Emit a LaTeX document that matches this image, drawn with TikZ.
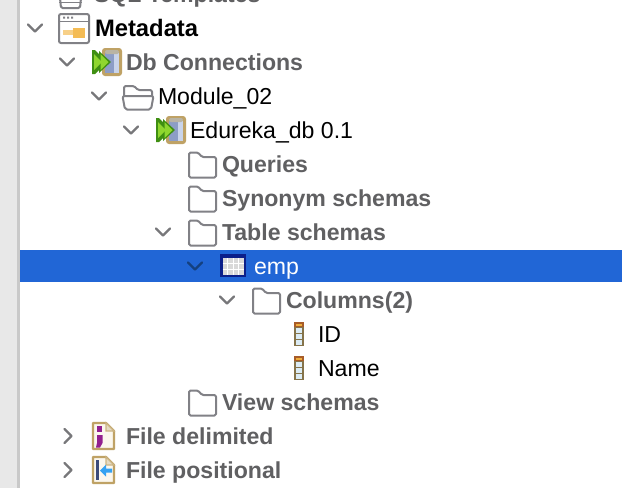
\documentclass[tikz,border=0pt]{standalone}
\usepackage{fontspec}
\setmainfont{Liberation Sans}
\definecolor{selblue}{HTML}{2166D6}
\definecolor{seldark}{HTML}{14407F}
\definecolor{navy}{HTML}{0B1F8A}
\definecolor{chev}{HTML}{77777A}
\definecolor{graytxt}{HTML}{606062}
\definecolor{foldline}{HTML}{818186}
\definecolor{tan}{HTML}{BFA265}
\definecolor{cylblue}{HTML}{8C9DC6}
\definecolor{cyllight}{HTML}{C9D4EA}
\definecolor{cylgray}{HTML}{B9B4A4}
\definecolor{limeg}{HTML}{8FD62E}
\definecolor{darkg}{HTML}{3F8F12}
\definecolor{keyor}{HTML}{F4BC55}
\definecolor{colbrown}{HTML}{85734A}
\definecolor{coltop}{HTML}{A85C28}
\definecolor{color2}{HTML}{EFAE3C}
\definecolor{colcell}{HTML}{DCECF5}
\definecolor{panel}{HTML}{E8E8E8}
\definecolor{panelline}{HTML}{C9C9C9}
\definecolor{purp}{HTML}{92208F}
\definecolor{arrowblue}{HTML}{36A2F2}
\definecolor{barblue}{HTML}{3B4A78}
\definecolor{cream}{HTML}{FBF7EE}
\tikzset{
  x=1pt,y=-1pt,
  lbl/.style={anchor=base west,inner sep=0pt,outer sep=0pt,font=\fontsize{23.1}{25}\selectfont,text=black},
  blbl/.style={lbl,font=\fontsize{23.1}{25}\selectfont\bfseries,text=graytxt},
  chevline/.style={draw=chev,line width=2.2pt,line cap=round,line join=round},
  foldstyle/.style={draw=foldline,line width=2pt,line join=round,fill=white},
  pics/chevdown/.style={code={\draw[chevline,#1] (-7,-3.5) -- (0,3.5) -- (7,-3.5);}},
  pics/chevdown/.default={},
  pics/chevright/.style={code={\draw[chevline] (-3.5,-7) -- (3.5,0) -- (-3.5,7);}},
  pics/folder/.style={code={\draw[foldstyle,rounded corners=1.5pt] (0,0) -- (0,-12.5) -- (9,-12.5) -- (13,-8) -- (27,-8) -- (27,12.5) -- (0,12.5) -- cycle;}},
  pics/dbicon/.style={code={
    \fill[tan,rounded corners=3pt] (10,-14) rectangle (30,14);
    \fill[cyllight] (13,-9) rectangle (27,11);
    \fill[cylblue] (13,-9) rectangle (22,11);
    \fill[cylgray,rounded corners=2pt] (13,-12) rectangle (27,-8);
    \fill[darkg] (0,-12) -- (3,-12) -- (15,0) -- (3,12) -- (0,12) -- cycle;
    \fill[darkg] (7,-11) -- (19,0) -- (7,11) -- cycle;
    \fill[limeg] (2,-8) -- (10,0) -- (2,8) -- cycle;
    \fill[limeg] (8.5,-8) -- (16.5,0) -- (8.5,8) -- cycle;
  }},
  pics/colicon/.style={code={
    \fill[colbrown] (-5,-12) rectangle (5,12);
    \fill[coltop] (-5,-12) rectangle (5,-7);
    \fill[color2] (-3,-10) rectangle (3,-8);
    \fill[colcell] (-3,-6) rectangle (3,-1.5);
    \fill[colcell] (-3,0) rectangle (3,4.5);
    \fill[colcell] (-3,6) rectangle (3,10.5);
  }},
  pics/fileicon/.style={code={
    \draw[tan,line width=2.4pt,fill=cream,line join=round] (0,-13) -- (13,-13) -- (21,-5) -- (21,13) -- (0,13) -- cycle;
    \draw[tan!80,line width=1.2pt,fill=tan!40] (13,-13) -- (13,-5) -- (21,-5) -- cycle;
  }},
}
\begin{document}
\begin{tikzpicture}
\useasboundingbox (0,0) rectangle (622,488);
\clip (0,0) rectangle (622,488);
\fill[white] (0,0) rectangle (622,488);
\fill[panel] (0,0) rectangle (17,488);
\fill[panelline] (17,0) rectangle (20,488);
\fill[selblue] (20,250) rectangle (622,282);

% top clipped row
\pic at (35,-6) {chevdown};
\draw[foldstyle,rounded corners=1.5pt] (59,-12) -- (82,-12) -- (80,8) -- (61,8) -- cycle;
\draw[foldline,line width=1.8pt] (59,2.5) -- (82,2.5);
\node[blbl] (sql) at (94,2) {SQL Templates};

% chevrons
\pic at (35,28) {chevdown};
\pic at (67,62) {chevdown};
\pic at (99,96) {chevdown};
\pic at (131,130) {chevdown};
\pic at (163,232) {chevdown};
\pic at (195,266) {chevdown={draw=seldark}};
\pic at (227,300) {chevdown};
\pic at (68,436) {chevright};
\pic at (68,470) {chevright};

% metadata icon
\draw[foldline,line width=2pt,rounded corners=2pt,fill=white] (59,14) rectangle (89,43);
\draw[foldline,line width=1.8pt] (59,21.5) -- (89,21.5);
\fill[foldline] (63,16.5) rectangle (65,18.5) (67,16.5) rectangle (69,18.5) (71,16.5) rectangle (73,18.5);
\fill[keyor!70!white] (63,29.5) rectangle (74,35);
\fill[keyor] (73,28) rectangle (85,37.5);

% db icons
\pic at (92,62) {dbicon};
\pic at (156,130) {dbicon};

% open folder
\draw[foldstyle,rounded corners=1.5pt] (124,96) -- (124,86) -- (134,86) -- (138,90) -- (152,90) -- (152,96);
\draw[foldstyle,rounded corners=2pt] (122.5,96) -- (153.5,96) -- (151,109.5) -- (125,109.5) -- cycle;

% folders
\pic at (189,165) {folder};
\pic at (189,199) {folder};
\pic at (189,233) {folder};
\pic at (253,301) {folder};
\pic at (189,403) {folder};

% table icon
\fill[navy] (220,254) rectangle (246,277);
\fill[gray!30] (222.5,258) rectangle (243.5,274.5);
\draw[white,line width=1pt] (227.75,258) -- (227.75,274.5) (233,258) -- (233,274.5) (238.25,258) -- (238.25,274.5) (222.5,263.5) -- (243.5,263.5) (222.5,269) -- (243.5,269);

% column icons
\pic at (299,334) {colicon};
\pic at (299,368) {colicon};

% file delimited
\pic at (93,436) {fileicon};
\fill[purp] (96.5,426) rectangle (102,431.5);
\fill[purp] (97,435) rectangle (102.5,443) -- (102.5,443) -- (100,447.5) -- (96,447.5) -- (97,443) -- cycle;
% file positional
\pic at (93,470) {fileicon};
\fill[barblue] (96,460) rectangle (98.5,480);
\fill[arrowblue] (100,470.5) -- (106,464.5) -- (106,468.5) -- (112,468.5) -- (112,472.5) -- (106,472.5) -- (106,476.5) -- cycle;

% labels
\node[lbl,font=\fontsize{23.8}{25}\selectfont\bfseries] (metadata) at (95,36) {Metadata};
\node[blbl] (dbconn) at (126,70) {Db Connections};
\node[lbl] (module) at (158,104) {Module\_02};
\node[lbl] (edureka) at (190,138) {Edureka\_db 0.1};
\node[blbl] (queries) at (222,172) {Queries};
\node[blbl] (synonym) at (222,206) {Synonym schemas};
\node[blbl] (table) at (222,240) {Table schemas};
\node[lbl,text=white] (emp) at (254,274) {emp};
\node[blbl] (columns) at (286,308) {Columns(2)};
\node[lbl] (id) at (318,342) {ID};
\node[lbl] (name) at (318,376) {Name};
\node[blbl] (view) at (222,410) {View schemas};
\node[blbl] (filedel) at (126,444) {File delimited};
\node[blbl] (filepos) at (126,478) {File positional};
\end{tikzpicture}
\end{document}
